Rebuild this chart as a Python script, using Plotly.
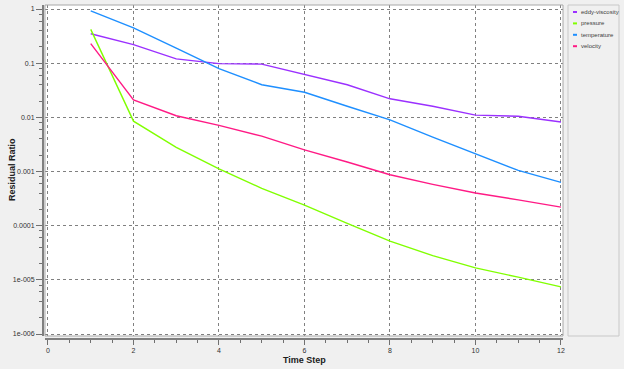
import plotly.graph_objects as go

steps = [1, 2, 3, 4, 5, 6, 7, 8, 9, 10, 11, 12]
eddy_viscosity = [0.35, 0.22, 0.12, 0.098, 0.096, 0.062, 0.040, 0.022, 0.016, 0.011, 0.0105, 0.0082]
pressure = [0.42, 0.0085, 0.0028, 0.00112, 0.00049, 0.00024, 0.00011, 5.2e-5, 2.8e-5, 1.66e-5, 1.12e-5, 7.4e-6]
temperature = [0.92, 0.45, 0.19, 0.079, 0.040, 0.029, 0.016, 0.009, 0.0043, 0.0021, 0.00105, 0.00063]
velocity = [0.23, 0.021, 0.0107, 0.0071, 0.0045, 0.0025, 0.0015, 0.00087, 0.00058, 0.0004, 0.0003, 0.00022]

series_names = ["eddy-viscosity", "pressure", "temperature", "velocity"]
series_values = [eddy_viscosity, pressure, temperature, velocity]
colors = ["#9b30ff", "#80ff00", "#1e8fff", "#ff1a85"]

x_ticks = [0, 2, 4, 6, 8, 10, 12]
y_tickvals = [1, 0.1, 0.01, 0.001, 0.0001, 1e-5, 1e-6]
y_ticktext = ["1", "0.1", "0.01", "0.001", "0.0001", "1e-005", "1e-006"]
y_minor = [m * 10.0 ** k for k in range(-6, 0) for m in (2, 4, 6, 8)]

W, H = 624, 369
ml, mr, mt, mb = 43, 61, 5, 30
pw, ph = W - ml - mr, H - mt - mb
dx0 = 2 / pw
dy0 = 3 / ph

FONT = "Liberation Sans, Arial, sans-serif"

fig = go.Figure()
for name, vals, c in zip(series_names, series_values, colors):
    fig.add_trace(go.Scatter(x=steps, y=vals, mode="lines", name=name,
                             line=dict(color=c, width=1.4), showlegend=False))

tickfont = dict(family=FONT, size=7, color="#303030")
fig.update_layout(
    width=W, height=H,
    margin=dict(l=ml, r=mr, t=mt, b=mb, autoexpand=False),
    paper_bgcolor="#f0f0f0", plot_bgcolor="white",
    xaxis=dict(domain=[dx0, 1], anchor="free", position=0, automargin=False,
               range=[-0.07, 12.047], tickvals=x_ticks,
               ticks="outside", ticklen=5, tickcolor="#707070", tickwidth=1,
               showline=True, linecolor="#808080", linewidth=2,
               showgrid=True, gridcolor="#808080", griddash="dot", gridwidth=1,
               zeroline=False, tickfont=tickfont,
               minor=dict(dtick=0.5, ticks="outside", ticklen=3, tickcolor="#707070", showgrid=False)),
    yaxis=dict(type="log", domain=[dy0, 1], anchor="free", position=0, automargin=False,
               range=[-6.037, 0.074], tickvals=y_tickvals, ticktext=y_ticktext,
               ticks="outside", ticklen=6, tickcolor="#707070", tickwidth=1,
               showline=True, linecolor="#808080", linewidth=2,
               showgrid=True, gridcolor="#808080", griddash="dot", gridwidth=1,
               zeroline=False, tickfont=tickfont,
               minor=dict(tickmode="array", tickvals=y_minor, ticks="outside", ticklen=3, tickcolor="#707070", showgrid=False)),
)

# axis titles
fig.add_annotation(x=(304.5 - ml) / pw, y=-(360 - (H - mb)) / ph, xref="paper", yref="paper",
                   text="<b>Time Step</b>", showarrow=False, xanchor="center", yanchor="middle",
                   font=dict(family=FONT, size=9, color="#202020"))
fig.add_annotation(x=-(ml - 12) / pw, y=1 - (170 - mt) / ph, xref="paper", yref="paper",
                   text="<b>Residual Ratio</b>", showarrow=False, textangle=-90,
                   xanchor="center", yanchor="middle",
                   font=dict(family=FONT, size=9, color="#202020"))

# plot frame
fig.add_shape(type="rect", xref="paper", yref="paper", x0=dx0, x1=1, y0=dy0, y1=1,
              line=dict(color="#a8a8a8", width=1), fillcolor="rgba(0,0,0,0)", layer="above")

# legend box (drawn manually to fit the narrow panel)
lx0 = 1 + 5 / pw
lx1 = 1 + 56 / pw
fig.add_shape(type="rect", xref="paper", yref="paper", x0=lx0, x1=lx1, y0=0.009, y1=1,
              line=dict(color="#c8c8c8", width=1), fillcolor="#f0f0f0")
for i, (name, c) in enumerate(zip(series_names, colors)):
    ypix = 12 + i * 11.4
    yp = 1 - (ypix - mt) / ph
    fig.add_shape(type="line", xref="paper", yref="paper",
                  x0=1 + 10 / pw, x1=1 + 14 / pw, y0=yp, y1=yp,
                  line=dict(color=c, width=2))
    fig.add_annotation(x=1 + 16 / pw, y=yp, xref="paper", yref="paper", text=name,
                       showarrow=False, xanchor="left", yanchor="middle",
                       font=dict(family=FONT, size=6, color="#404040"))

fig.write_html("out.html", config={"displayModeBar": False},
               post_script="document.body.style.margin='0';document.body.style.background='#f0f0f0';")
